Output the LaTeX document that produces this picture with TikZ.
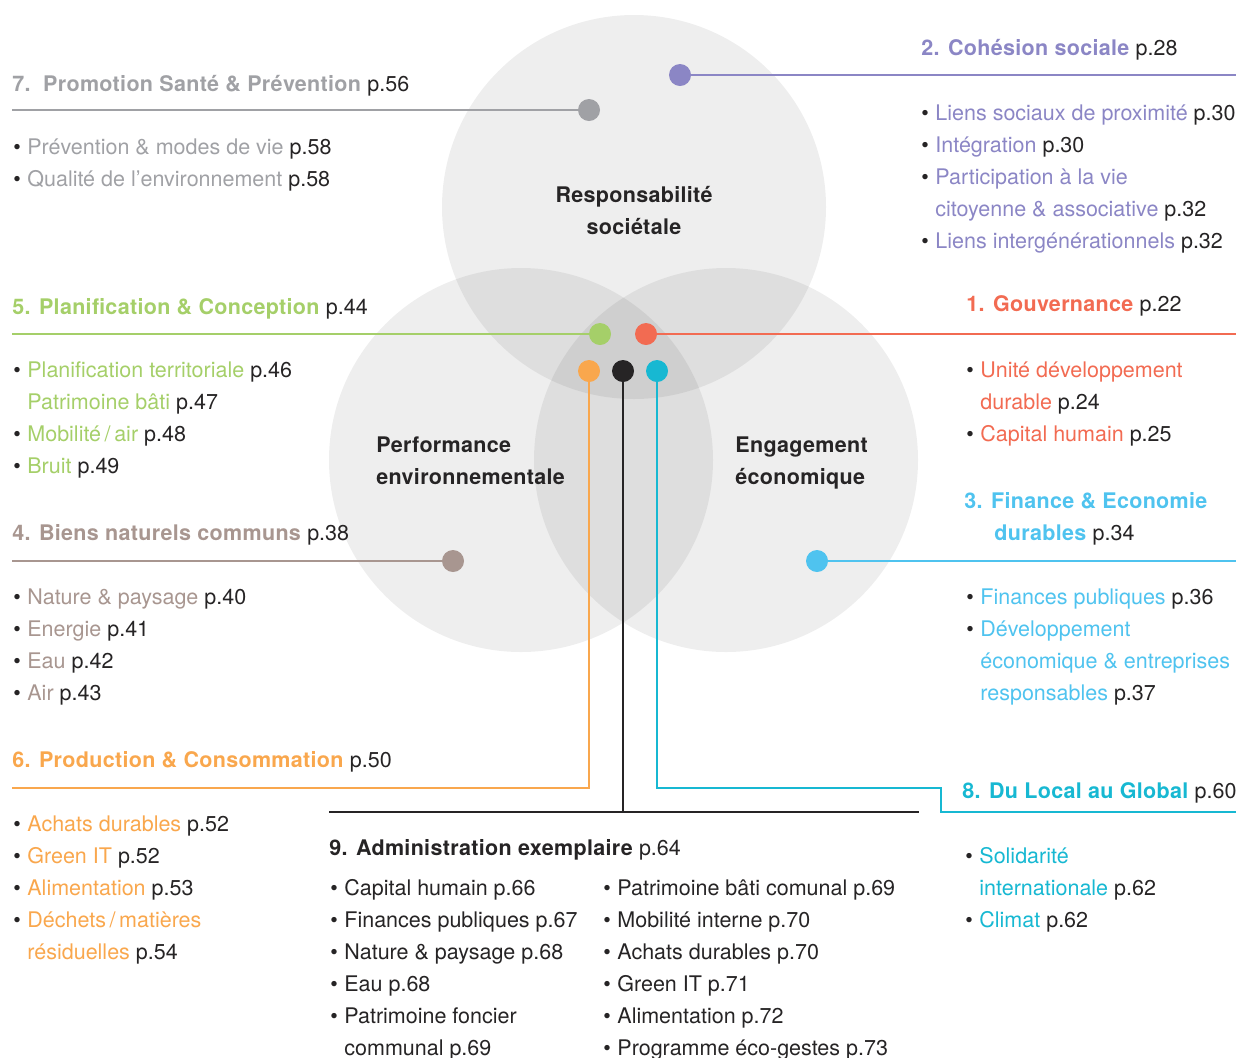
\documentclass[tikz,border=0pt]{standalone}
\usepackage{fontspec}
\setmainfont{TeX Gyre Heros}[BoldFeatures={LetterSpace=1.5}]
\definecolor{ink}{HTML}{262425}
\definecolor{c1}{HTML}{F26B52}
\definecolor{c2}{HTML}{8B86C5}
\definecolor{c3}{HTML}{4FC3EF}
\definecolor{c4}{HTML}{A89690}
\definecolor{c5}{HTML}{A5CF69}
\definecolor{c6}{HTML}{F9A74D}
\definecolor{c7}{HTML}{A0A1A5}
\definecolor{c8}{HTML}{17B8D2}
\newcommand{\pg}[1]{\textcolor{ink}{\mdseries p.#1}}
\newcommand{\bul}{\makebox[7pt][l]{\textcolor{ink}{\textbullet}}}
\tikzset{every node/.style={inner sep=0pt, anchor=base west, font=\fontsize{10.75}{16}\selectfont},
  head/.style={font=\fontsize{10.75}{16}\selectfont\bfseries},
  dot/.style={circle, minimum size=11pt, anchor=center},
  link/.style={line width=0.9pt},
  disc/.style={fill=black, fill opacity=0.065}}

\begin{document}
\begin{tikzpicture}[x=0.5pt,y=-0.5pt]
  \useasboundingbox (0,0) rectangle (1240,1057);
  % the three spheres
  \fill[disc] (634,207) circle (192);
  \fill[disc] (521,460) circle (192);
  \fill[disc] (726,460) circle (192);
  \node[head, ink, align=center, anchor=base] (rs) at (634,234) {Responsabilité\\sociétale};
  \node[head, ink, align=left] (pe) at (376,484) {Performance\\environnementale};
  \node[head, ink, align=left] (ee) at (735,484) {Engagement\\économique};
  % dots
  \node[dot, fill=c7] (d7) at (589,110) {};
  \node[dot, fill=c2] (d2) at (680,75) {};
  \node[dot, fill=c5] (d5) at (600,334) {};
  \node[dot, fill=c1] (d1) at (646,334) {};
  \node[dot, fill=c6] (d6) at (589,371) {};
  \node[dot, fill=ink] (d9) at (623,371) {};
  \node[dot, fill=c8] (d8) at (657,371) {};
  \node[dot, fill=c4] (d4) at (453,561) {};
  \node[dot, fill=c3] (d3) at (817,561) {};
  % line ends
  \coordinate (e7) at (12,110);
  \coordinate (e2) at (1236,75);
  \coordinate (e5) at (12,334);
  \coordinate (e1) at (1236,334);
  \coordinate (e4) at (12,561);
  \coordinate (e3) at (1236,561);
  \coordinate (o6) at (589,788);
  \coordinate (e6) at (12,788);
  \coordinate (o9) at (623,812);
  \coordinate (a9) at (329,812);
  \coordinate (b9) at (919,812);
  \coordinate (o8) at (657,788);
  \coordinate (k8) at (941,788);
  \coordinate (m8) at (941,812);
  \coordinate (e8) at (1236,812);
  \draw[link, c7] (e7) -- (d7);
  \draw[link, c2] (d2) -- (e2);
  \draw[link, c5] (e5) -- (d5);
  \draw[link, c1] (d1) -- (e1);
  \draw[link, c4] (e4) -- (d4);
  \draw[link, c3] (d3) -- (e3);
  \draw[link, c6] (d6) -- (o6) -- (e6);
  \draw[link, ink] (d9) -- (o9);
  \draw[link, ink] (a9) -- (b9);
  \draw[link, c8] (d8) -- (o8) -- (k8) -- (m8) -- (e8);
  % 7
  \node[head, c7] (h7) at (12,91) {7.\ \ Promotion Santé \& Prévention \pg{56}};
  \node[c7] (i7a) at (13,154) {\bul Prévention \& modes de vie \pg{58}};
  \node[c7] (i7b) at (13,186) {\bul Qualité de l’environnement \pg{58}};
  % 2
  \node[head, c2] (h2) at (921,55) {2. Cohésion sociale \pg{28}};
  \node[c2] (i2a) at (921,120) {\bul Liens sociaux de proximité \pg{30}};
  \node[c2] (i2b) at (921,152) {\bul Intégration \pg{30}};
  \node[c2] (i2c) at (921,184) {\bul Participation à la vie};
  \node[c2] (i2d) at (935,216) {citoyenne \& associative \pg{32}};
  \node[c2] (i2e) at (921,248) {\bul Liens intergénérationnels \pg{32}};
  % 5
  \node[head, c5] (h5) at (12,314) {5. Planification \& Conception \pg{44}};
  \node[c5] (i5a) at (13,377) {\bul Planification territoriale \pg{46}};
  \node[c5] (i5b) at (27,409) {Patrimoine bâti \pg{47}};
  \node[c5] (i5c) at (13,441) {\bul Mobilité\,/\,air \pg{48}};
  \node[c5] (i5d) at (13,473) {\bul Bruit \pg{49}};
  % 1
  \node[head, c1] (h1) at (966,311) {1. Gouvernance \pg{22}};
  \node[c1] (i1a) at (966,377) {\bul Unité développement};
  \node[c1] (i1b) at (980,409) {durable \pg{24}};
  \node[c1] (i1c) at (966,441) {\bul Capital humain \pg{25}};
  % 3
  \node[head, c3] (h3) at (964,508) {3. Finance \& Economie};
  \node[head, c3] (h3b) at (994,540) {durables \pg{34}};
  \node[c3] (i3a) at (966,604) {\bul Finances publiques \pg{36}};
  \node[c3] (i3b) at (966,636) {\bul Développement};
  \node[c3] (i3c) at (980,668) {économique \& entreprises};
  \node[c3] (i3d) at (980,700) {responsables \pg{37}};
  % 4
  \node[head, c4] (h4) at (12,540) {4. Biens naturels communs \pg{38}};
  \node[c4] (i4a) at (13,604) {\bul Nature \& paysage \pg{40}};
  \node[c4] (i4b) at (13,636) {\bul Energie \pg{41}};
  \node[c4] (i4c) at (13,668) {\bul Eau \pg{42}};
  \node[c4] (i4d) at (13,700) {\bul Air \pg{43}};
  % 6
  \node[head, c6] (h6) at (12,767) {6. Production \& Consommation \pg{50}};
  \node[c6] (i6a) at (13,831) {\bul Achats durables \pg{52}};
  \node[c6] (i6b) at (13,863) {\bul Green IT \pg{52}};
  \node[c6] (i6c) at (13,895) {\bul Alimentation \pg{53}};
  \node[c6] (i6d) at (13,927) {\bul Déchets\,/\,matières};
  \node[c6] (i6e) at (27,959) {résiduelles \pg{54}};
  % 8
  \node[head, c8] (h8) at (962,798) {8. Du Local au Global \pg{60}};
  \node[c8] (i8a) at (965,863) {\bul Solidarité};
  \node[c8] (i8b) at (979,895) {internationale \pg{62}};
  \node[c8] (i8c) at (965,927) {\bul Climat \pg{62}};
  % 9
  \node[head, ink] (h9) at (329,855) {9. Administration exemplaire \pg{64}};
  \node[ink] (i9a) at (330,895) {\bul Capital humain p.66};
  \node[ink] (i9b) at (330,927) {\bul Finances publiques p.67};
  \node[ink] (i9c) at (330,959) {\bul Nature \& paysage p.68};
  \node[ink] (i9d) at (330,991) {\bul Eau p.68};
  \node[ink] (i9e) at (330,1023) {\bul Patrimoine foncier};
  \node[ink] (i9f) at (344,1055) {communal p.69};
  \node[ink] (j9a) at (603,895) {\bul Patrimoine bâti comunal p.69};
  \node[ink] (j9b) at (603,927) {\bul Mobilité interne p.70};
  \node[ink] (j9c) at (603,959) {\bul Achats durables p.70};
  \node[ink] (j9d) at (603,991) {\bul Green IT p.71};
  \node[ink] (j9e) at (603,1023) {\bul Alimentation p.72};
  \node[ink] (j9f) at (603,1055) {\bul Programme éco-gestes p.73};
\end{tikzpicture}
\end{document}
